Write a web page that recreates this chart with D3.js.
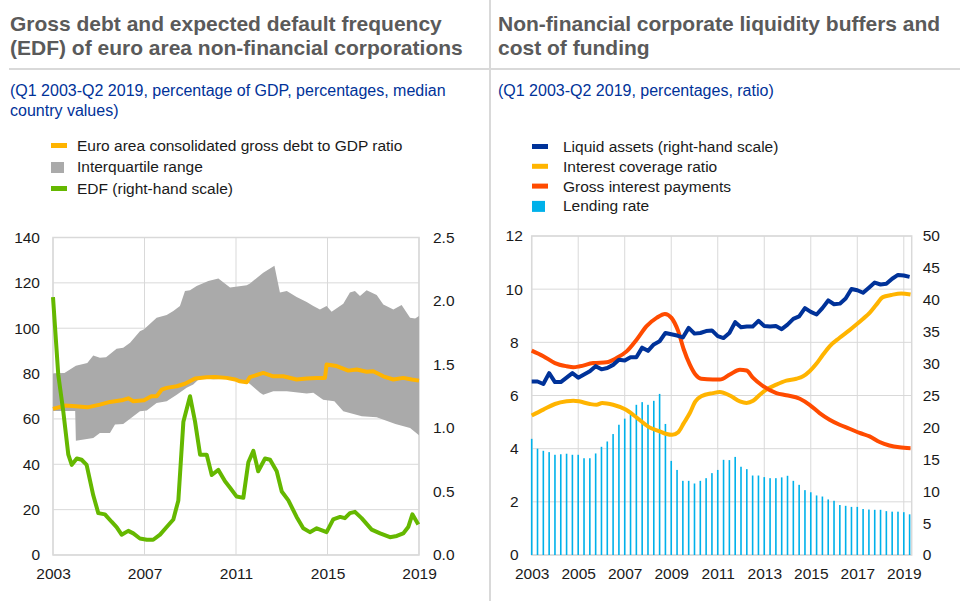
<!DOCTYPE html>
<html>
<head>
<meta charset="utf-8">
<script src="https://cdn.jsdelivr.net/npm/d3@7"></script>
<style>
  body { margin: 0; background: #fff; }
  text { font-family: Arial, "Liberation Sans", sans-serif; }
</style>
</head>
<body>
<svg id="chart" width="960" height="601"></svg>
<script>
// ---- left chart data: [year, value] ----
const iqrHigh = [[2003.0,80],[2003.5,80.3],[2004.0,83.5],[2004.5,84.7],[2004.76,88],[2005.05,87],[2005.32,87.2],
  [2005.78,91],[2006.07,91.4],[2006.37,93.6],[2006.8,98.7],[2006.98,99.5],[2007.53,104.6],[2007.97,105.8],
  [2008.26,107.6],[2008.55,109.8],[2008.77,116.4],[2008.99,116.7],[2009.28,118.6],[2009.79,120.8],[2010.23,121.9],
  [2010.74,117.9],[2011.47,118.9],[2011.61,119.7],[2012.19,124.5],[2012.68,127.5],[2012.92,115.7],[2013.22,116.4],
  [2013.65,113.8],[2014.09,111.6],[2014.38,109.8],[2014.67,108.3],[2014.96,109.8],[2015.18,107.3],[2015.69,110.8],
  [2015.98,115.7],[2016.2,116.4],[2016.42,114.2],[2016.71,116.7],[2017.15,114.6],[2017.44,110.5],[2017.88,108.3],
  [2018.24,110.2],[2018.61,104.6],[2018.83,104.3],[2019.0,105.4]];
const iqrLow = [[2003.0,63.5],[2003.97,63.5],[2004.0,50.4],[2004.76,51.6],[2005.05,53.8],[2005.49,53.8],[2005.71,57.5],
  [2006.07,57.8],[2006.37,60.1],[2006.8,63.4],[2007.1,63.7],[2007.53,67],[2007.97,67.8],[2008.41,70.7],[2008.84,73.7],
  [2009.13,75.2],[2009.43,78.1],[2010.0,77.5],[2010.74,77.7],[2011.47,76.6],[2012.05,71.5],[2012.19,70.7],
  [2012.63,72.2],[2013.22,72.2],[2014.09,71.2],[2014.38,71.5],[2014.81,68.5],[2015.3,67.8],[2015.69,63.4],
  [2016.5,61.2],[2017.15,60.7],[2017.97,57.8],[2018.61,56],[2019.0,52.8]];
const debtRatio = [[2003.0,64.4],[2003.52,65.9],[2004.0,65.6],[2004.5,65.1],[2005.05,66.3],[2005.49,67.5],[2006.0,68.2],
  [2006.29,69.1],[2006.51,67.8],[2006.98,68.2],[2007.3,70],[2007.53,70],[2007.75,72.9],[2007.97,73.7],[2008.41,74.4],
  [2008.77,75.5],[2009.21,77.8],[2009.72,78.4],[2010.08,78.5],[2010.59,78.1],[2010.96,77.4],[2011.17,76.6],
  [2011.47,76.2],[2011.61,78.4],[2012.19,80.3],[2012.63,78.8],[2013.07,78.8],[2013.65,77.4],[2014.09,77.8],
  [2014.53,78.1],[2014.89,78.1],[2014.96,84],[2015.4,83.3],[2015.91,81.3],[2016.28,81.8],[2016.71,80.8],[2017.0,81],
  [2017.44,78.8],[2017.88,77.4],[2018.31,78.1],[2018.68,77.4],[2019.0,76.9]];
const edf = [[2003.0,2.03],[2003.23,1.42],[2003.45,1.13],[2003.67,0.79],[2003.82,0.71],[2004.04,0.76],[2004.25,0.75],
  [2004.47,0.71],[2004.76,0.47],[2004.98,0.33],[2005.27,0.32],[2005.57,0.26],[2005.78,0.22],[2006.0,0.16],[2006.29,0.19],
  [2006.51,0.17],[2006.8,0.13],[2007.1,0.12],[2007.38,0.12],[2007.68,0.16],[2007.97,0.22],[2008.26,0.28],[2008.48,0.43],
  [2008.7,1.05],[2008.99,1.25],[2009.21,1.05],[2009.43,0.79],[2009.72,0.79],[2009.94,0.63],[2010.23,0.67],[2010.52,0.58],
  [2010.74,0.53],[2011.03,0.46],[2011.32,0.45],[2011.54,0.73],[2011.76,0.82],[2011.97,0.66],[2012.27,0.76],[2012.49,0.75],
  [2012.78,0.66],[2013.0,0.5],[2013.29,0.43],[2013.65,0.3],[2013.94,0.21],[2014.23,0.18],[2014.53,0.21],[2014.96,0.18],
  [2015.25,0.28],[2015.55,0.3],[2015.76,0.29],[2015.98,0.33],[2016.2,0.34],[2016.49,0.29],[2016.93,0.2],[2017.3,0.17],
  [2017.73,0.14],[2018.03,0.15],[2018.31,0.17],[2018.53,0.22],[2018.71,0.32],[2018.97,0.24]];
const leftYears = [2003, 2007, 2011, 2015, 2019];

// ---- right chart data ----
// quarterly, Q1 2003 - Q2 2019
const lendingRate = [4.37,4.0,3.92,3.87,3.77,3.79,3.81,3.77,3.77,3.64,3.64,3.82,4.07,4.27,4.55,4.9,5.13,5.28,5.65,5.75,
  5.65,5.8,6.06,4.93,3.54,3.2,2.79,2.79,2.69,2.79,2.89,3.08,3.2,3.58,3.57,3.69,3.32,3.23,2.99,2.99,2.93,2.89,2.89,2.92,
  2.98,2.79,2.64,2.44,2.36,2.24,2.2,2.09,2.04,1.88,1.85,1.81,1.81,1.73,1.71,1.7,1.7,1.65,1.63,1.63,1.61,1.53];
const liquidAssets = [27.2,27.2,26.8,28.5,27.1,27.1,27.8,28.5,27.8,28.3,28.8,29.6,29.1,29.3,29.8,30.6,30.5,31.0,31.0,32.5,
  32.0,33.0,33.5,34.8,34.6,34.4,34.1,35.6,34.7,34.8,35.1,35.2,34.3,34.0,34.8,36.5,35.7,35.8,35.8,36.7,35.9,35.8,35.9,35.4,
  36.1,37.0,37.4,38.7,38.1,37.7,38.7,39.9,39.3,39.4,40.2,41.7,41.5,41.1,41.9,42.7,42.4,42.5,43.3,43.9,43.8,43.6];
const coverageRatio = [[2003.0,5.25],[2003.5,5.47],[2004.0,5.68],[2004.5,5.78],[2004.79,5.8],[2005.03,5.78],[2005.5,5.68],
  [2005.79,5.65],[2006.03,5.72],[2006.5,5.65],[2007.04,5.47],[2007.54,5.15],[2008.04,4.81],[2008.51,4.65],[2008.8,4.55],
  [2009.04,4.52],[2009.3,4.62],[2009.54,4.96],[2009.8,5.34],[2010.04,5.78],[2010.29,5.97],[2010.79,6.09],[2011.09,6.13],
  [2011.52,6.0],[2011.95,5.78],[2012.24,5.72],[2012.52,5.8],[2012.81,6.03],[2013.09,6.22],[2013.52,6.41],[2013.95,6.56],
  [2014.38,6.63],[2014.67,6.72],[2014.95,6.91],[2015.24,7.19],[2015.53,7.54],[2015.81,7.85],[2016.24,8.17],[2016.67,8.46],
  [2016.96,8.67],[2017.24,8.88],[2017.53,9.11],[2017.82,9.42],[2018.1,9.7],[2018.46,9.78],[2018.89,9.84],[2019.29,9.8]];
const interestPay = [[2003.0,7.69],[2003.5,7.48],[2004.0,7.22],[2004.5,7.1],[2004.79,7.06],[2005.07,7.1],[2005.65,7.22],
  [2006.22,7.25],[2006.65,7.41],[2007.08,7.66],[2007.51,8.1],[2007.94,8.61],[2008.37,8.92],[2008.73,9.07],[2009.01,8.92],
  [2009.3,8.42],[2009.54,7.73],[2009.8,7.16],[2010.04,6.79],[2010.29,6.63],[2010.79,6.6],[2011.09,6.6],[2011.52,6.79],
  [2011.95,6.97],[2012.24,6.94],[2012.52,6.66],[2012.95,6.35],[2013.52,6.09],[2013.95,6.01],[2014.53,5.88],[2014.95,5.65],
  [2015.38,5.34],[2015.81,5.09],[2016.24,4.9],[2016.67,4.75],[2017.1,4.59],[2017.53,4.46],[2017.96,4.25],[2018.38,4.12],
  [2018.81,4.05],[2019.29,4.02]];
const rightYears = [2003, 2005, 2007, 2009, 2011, 2013, 2015, 2017, 2019];
const quarters = lendingRate.map((d, i) => 2003 + i / 4);

const C = {
  title: "#5a5a5a", sub: "#003299", grid: "#d9d9d9", tick: "#1a1a1a",
  orange: "#ffb400", gray: "#aaaaaa", green: "#65b800",
  blue: "#003299", red: "#ff4b00", light: "#00b1ea"
};

const svg = d3.select("#chart");

// frame: divider and rule
svg.append("line").attr("x1", 490).attr("x2", 490).attr("y1", 0).attr("y2", 601)
  .attr("stroke", C.grid).attr("stroke-width", 2);
svg.append("line").attr("x1", 9).attr("x2", 960).attr("y1", 69).attr("y2", 69)
  .attr("stroke", C.grid).attr("stroke-width", 2);

const addText = (x, y, lines, size, color, weight, lh) => {
  const t = svg.append("text").attr("x", x).attr("y", y)
    .attr("font-size", size).attr("fill", color).attr("font-weight", weight || "normal");
  lines.forEach((l, i) => t.append("tspan").attr("x", x).attr("dy", i ? lh : 0).text(l));
};
addText(10, 31, ["Gross debt and expected default frequency", "(EDF) of euro area non-financial corporations"], 21, C.title, "bold", 23.5);
addText(498, 31, ["Non-financial corporate liquidity buffers and", "cost of funding"], 21, C.title, "bold", 23.5);
addText(10, 96, ["(Q1 2003-Q2 2019, percentage of GDP, percentages, median", "country values)"], 16, C.sub, "normal", 20);
addText(498, 96, ["(Q1 2003-Q2 2019, percentages, ratio)"], 16, C.sub, "normal", 20);

// legends
const legend = (x, y0, step, items) => {
  const g = svg.append("g");
  items.forEach((it, i) => {
    const cy = y0 + i * step;
    if (it.box) g.append("rect").attr("x", x).attr("y", cy - 5).attr("width", 13).attr("height", 11).attr("fill", it.color);
    else g.append("rect").attr("x", x).attr("y", cy - 2.5).attr("width", 16).attr("height", 5).attr("fill", it.color);
    g.append("text").attr("x", x + (it.tx || 26)).attr("y", cy).attr("dy", "0.35em")
      .attr("font-size", 15.5).attr("fill", C.tick).text(it.label);
  });
};
legend(51, 145.5, 21.5, [
  {label: "Euro area consolidated gross debt to GDP ratio", color: C.orange},
  {label: "Interquartile range", color: C.gray, box: true},
  {label: "EDF (right-hand scale)", color: C.green}
]);
legend(532, 146.5, 19.8, [
  {label: "Liquid assets (right-hand scale)", color: C.blue, tx: 31},
  {label: "Interest coverage ratio", color: C.orange, tx: 31},
  {label: "Gross interest payments", color: C.red, tx: 31},
  {label: "Lending rate", color: C.light, box: true, tx: 31}
]);

const styleAxis = (g) => {
  g.select(".domain").remove();
  g.selectAll("text").attr("font-size", 15.5).attr("fill", C.tick).attr("font-family", "Arial, 'Liberation Sans', sans-serif");
};

// ---------- left chart ----------
const xL = d3.scaleLinear().domain([2003, 2019]).range([53, 419]);
const yL = d3.scaleLinear().domain([0, 140]).range([555, 237.5]);
const yL2 = d3.scaleLinear().domain([0, 2.5]).range([555, 237.5]);

const gl = svg.append("g");
gl.append("g").selectAll("line").data(yL.ticks(7)).join("line")
  .attr("x1", xL(2003)).attr("x2", xL(2019)).attr("y1", d => yL(d)).attr("y2", d => yL(d))
  .attr("stroke", C.grid);
gl.append("g").selectAll("line").data(leftYears).join("line")
  .attr("x1", d => xL(d)).attr("x2", d => xL(d)).attr("y1", yL(0)).attr("y2", yL(140))
  .attr("stroke", C.grid);
gl.append("rect").attr("x", xL(2003)).attr("y", yL(140)).attr("width", xL(2019) - xL(2003)).attr("height", yL(0) - yL(140))
  .attr("fill", "none").attr("stroke", C.grid).attr("stroke-width", 1.5);

// interquartile band: merge upper and lower outlines
const bandPath = d3.line().x(d => xL(d[0])).y(d => yL(d[1]));
gl.append("path")
  .attr("d", bandPath(iqrHigh.concat(iqrLow.slice().reverse())) + "Z")
  .attr("fill", C.gray);

gl.append("path").datum(debtRatio)
  .attr("d", d3.line().x(d => xL(d[0])).y(d => yL(d[1])))
  .attr("fill", "none").attr("stroke", C.orange).attr("stroke-width", 4).attr("stroke-linejoin", "round");
gl.append("path").datum(edf)
  .attr("d", d3.line().x(d => xL(d[0])).y(d => yL2(d[1])))
  .attr("fill", "none").attr("stroke", C.green).attr("stroke-width", 4).attr("stroke-linejoin", "round");

gl.append("g").attr("transform", `translate(${xL(2003)},0)`)
  .call(d3.axisLeft(yL).ticks(7).tickSize(0).tickPadding(13)).call(styleAxis);
gl.append("g").attr("transform", `translate(${xL(2019)},0)`)
  .call(d3.axisRight(yL2).ticks(5).tickFormat(d3.format(".1f")).tickSize(0).tickPadding(14)).call(styleAxis);
gl.append("g").attr("transform", `translate(0,${yL(0)})`)
  .call(d3.axisBottom(xL).tickValues(leftYears).tickFormat(d3.format("d")).tickSize(0).tickPadding(13)).call(styleAxis);

// ---------- right chart ----------
const xR = d3.scaleLinear().domain([2003, 2019.34]).range([531.7, 911.7]);
const yR = d3.scaleLinear().domain([0, 12]).range([555, 236]);
const yR2 = d3.scaleLinear().domain([0, 50]).range([555, 236]);

const gr = svg.append("g");
gr.append("g").selectAll("line").data(yR.ticks(6)).join("line")
  .attr("x1", xR(2003)).attr("x2", xR.range()[1]).attr("y1", d => yR(d)).attr("y2", d => yR(d))
  .attr("stroke", C.grid);
gr.append("g").selectAll("line").data(rightYears).join("line")
  .attr("x1", d => xR(d)).attr("x2", d => xR(d)).attr("y1", yR(0)).attr("y2", yR(12))
  .attr("stroke", C.grid);
gr.append("rect").attr("x", xR(2003)).attr("y", yR(12)).attr("width", xR.range()[1] - xR(2003)).attr("height", yR(0) - yR(12))
  .attr("fill", "none").attr("stroke", C.grid).attr("stroke-width", 1.5);

gr.append("g").selectAll("rect").data(lendingRate).join("rect")
  .attr("x", (d, i) => xR(quarters[i]) - 0.8).attr("width", 1.6)
  .attr("y", d => yR(d)).attr("height", d => yR(0) - yR(d))
  .attr("fill", C.light);

gr.append("path").datum(coverageRatio)
  .attr("d", d3.line().curve(d3.curveMonotoneX).x(d => xR(d[0])).y(d => yR(d[1])))
  .attr("fill", "none").attr("stroke", C.orange).attr("stroke-width", 4);
gr.append("path").datum(interestPay)
  .attr("d", d3.line().curve(d3.curveMonotoneX).x(d => xR(d[0])).y(d => yR(d[1])))
  .attr("fill", "none").attr("stroke", C.red).attr("stroke-width", 4);
gr.append("path").datum(liquidAssets)
  .attr("d", d3.line().x((d, i) => xR(quarters[i])).y(d => yR2(d)))
  .attr("fill", "none").attr("stroke", C.blue).attr("stroke-width", 4).attr("stroke-linejoin", "round");

const axL = gr.append("g").attr("transform", `translate(${xR(2003)},0)`)
  .call(d3.axisLeft(yR).ticks(6).tickSize(0).tickPadding(0)).call(styleAxis);
axL.selectAll("text").attr("text-anchor", "middle").attr("x", -17.5);
gr.append("g").attr("transform", `translate(${xR.range()[1]},0)`)
  .call(d3.axisRight(yR2).ticks(10).tickSize(0).tickPadding(11)).call(styleAxis);
gr.append("g").attr("transform", `translate(0,${yR(0)})`)
  .call(d3.axisBottom(xR).tickValues(rightYears).tickFormat(d3.format("d")).tickSize(0).tickPadding(13)).call(styleAxis);
</script>
</body>
</html>
